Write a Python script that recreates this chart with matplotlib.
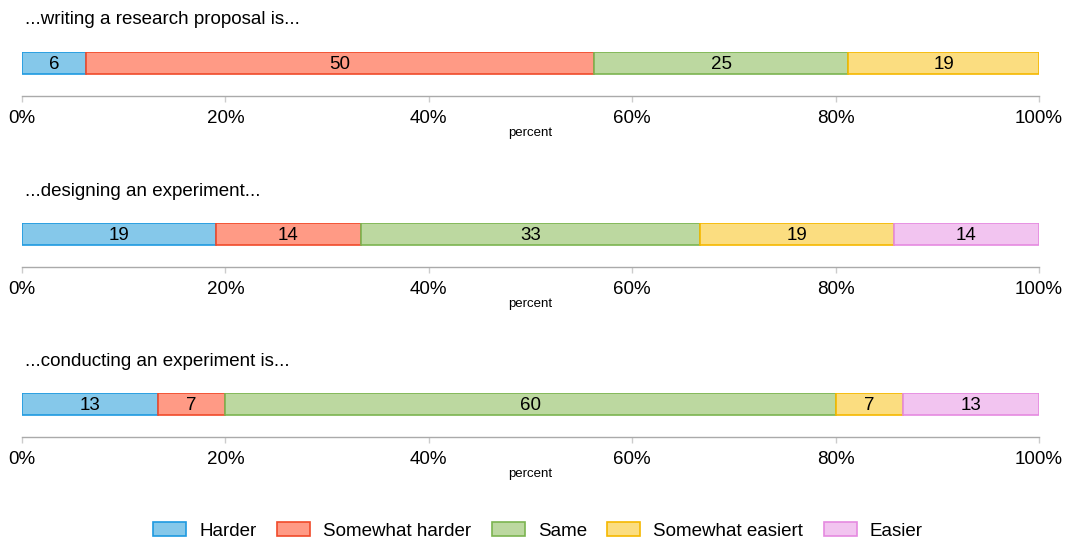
import matplotlib
matplotlib.use("Agg")
import matplotlib.pyplot as plt
from matplotlib.patches import Patch
import numpy as np

plt.rcParams['font.family'] = ['Liberation Sans', 'DejaVu Sans']

# answer counts per question (shares)
questions = ["...writing a research proposal is...",
             "...designing an experiment...",
             "...conducting an experiment is..."]
categories = ["Harder", "Somewhat harder", "Same", "Somewhat easiert", "Easier"]
counts_proposal = [1, 8, 4, 3, 0]
counts_design = [4, 3, 7, 4, 3]
counts_conduct = [2, 1, 9, 1, 2]
ticks = [0, 20, 40, 60, 80, 100]
tick_labels = ["0%", "20%", "40%", "60%", "80%", "100%"]

fills = ["#85c8ea", "#ff9a85", "#bcd8a0", "#fbdd80", "#f2c4f0"]
edges = ["#1e9ae0", "#f04a2a", "#7cb450", "#f5b800", "#e58ae0"]

W, H = 1065, 538
FS = 13.5
fig = plt.figure(figsize=(W / 100, H / 100), dpi=100)

rows = [counts_proposal, counts_design, counts_conduct]
spine_y = [96, 267, 437]   # pixel rows of the axis lines
title_y = [20, 191, 362]

for counts, q, sy, ty in zip(rows, questions, spine_y, title_y):
    ax = fig.add_axes([22 / W, 1 - sy / H, 1017 / W, 44 / H])
    pct = np.array(counts, dtype=float) / sum(counts) * 100
    left = 0.0
    for p, fc, ec in zip(pct, fills, edges):
        if p <= 0:
            continue
        ax.barh(0, p, left=left, height=1, color=fc, edgecolor=ec, linewidth=1.2)
        ax.text(left + p / 2, -0.08, "%d" % round(p), ha="center", va="center",
                fontsize=FS, color="black")
        left += p
    ax.set_xlim(0, 100)
    ax.set_ylim(-1.5, 0.5)
    ax.set_yticks([])
    for s in ["top", "right", "left"]:
        ax.spines[s].set_visible(False)
    ax.spines["bottom"].set_color("#aaaaaa")
    ax.spines["bottom"].set_linewidth(1)
    ax.set_xticks(ticks)
    ax.set_xticklabels(tick_labels)
    ax.tick_params(axis="x", length=4, width=1, color="#cccccc",
                   labelsize=FS, pad=6)
    ax.set_xlabel("percent", fontsize=9.5, labelpad=0)
    fig.text(25 / W, 1 - ty / H, q, fontsize=FS, va="center", ha="left")

handles = [Patch(facecolor=fc, edgecolor=ec, linewidth=1.2, label=c)
           for c, fc, ec in zip(categories, fills, edges)]
fig.legend(handles=handles, loc="center",
           bbox_to_anchor=(538 / W, 1 - 531 / H),
           ncol=5, frameon=False, fontsize=FS, handlelength=1.75,
           handleheight=0.75, handletextpad=0.7, columnspacing=1.1)

fig.savefig("out.png", dpi=100)
